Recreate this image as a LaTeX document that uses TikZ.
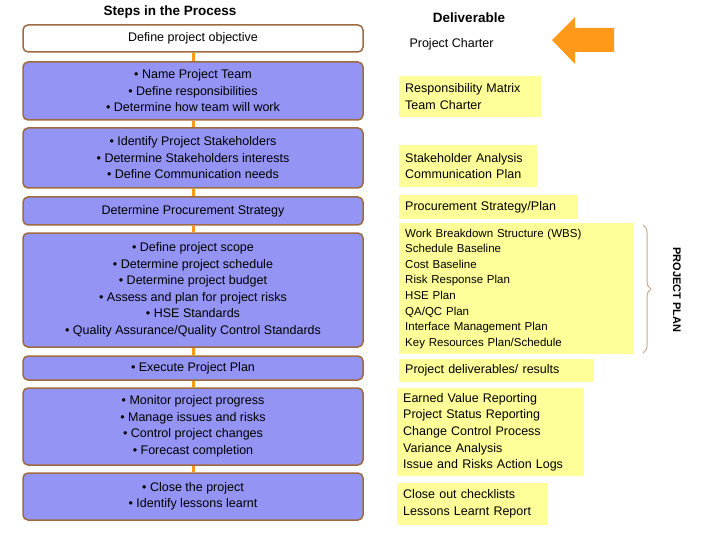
\documentclass[tikz,border=0pt]{standalone}
\usepackage{fontspec}
\setmainfont{Liberation Sans}
\usetikzlibrary{decorations.pathreplacing}
\definecolor{bl}{rgb}{0.58,0.58,0.96}
\definecolor{bd}{rgb}{0.62,0.42,0.25}
\definecolor{yl}{rgb}{1,1,0.6}
\definecolor{og}{rgb}{1,0.6,0.1}
\begin{document}
\begin{tikzpicture}[x=1pt,y=-1pt,
 stepbox/.style={draw=bd,line width=1.5pt,rounded corners=5pt,fill=bl,minimum width=340pt,align=center,font=\fontsize{12.5}{16.5}\selectfont,inner sep=2pt},
 del/.style={fill=yl,anchor=north west,align=left,font=\fontsize{12.5}{16.5}\selectfont,inner sep=4pt,inner xsep=6pt},
 con/.style={draw=og,line width=3pt}]
\useasboundingbox (0,0) rectangle (720,540);
\node[font=\bfseries\fontsize{13.5}{15}\selectfont] (h1) at (170,12) {Steps in the Process};
\node[font=\bfseries\fontsize{13.5}{15}\selectfont] (h2) at (469,18) {Deliverable};
\node[stepbox,fill=white,minimum height=27pt] (s1) at (193,38.5) {Define project objective};
\node[stepbox,minimum height=58pt] (s2) at (193,91) {• Name Project Team\\• Define responsibilities\\• Determine how team will work};
\node[stepbox,minimum height=60pt] (s3) at (193,158) {• Identify Project Stakeholders\\• Determine Stakeholders interests\\• Define Communication needs};
\node[stepbox,minimum height=28pt] (s4) at (193,211) {Determine Procurement Strategy};
\node[stepbox,minimum height=114pt] (s5) at (193,290) {• Define project scope\\• Determine project schedule\\• Determine project budget\\• Assess and plan for project risks\\• HSE Standards\\• Quality Assurance/Quality Control Standards};
\node[stepbox,minimum height=24pt] (s6) at (193,368) {• Execute Project Plan};
\node[stepbox,minimum height=77pt] (s7) at (193,426.5) {• Monitor project progress\\• Manage issues and risks\\• Control project changes\\• Forecast completion};
\node[stepbox,minimum height=47pt] (s8) at (193,496.5) {• Close the project\\• Identify lessons learnt};
\foreach \a/\b in {s1/s2,s2/s3,s3/s4,s4/s5,s5/s6,s6/s7,s7/s8}{
 \draw[con] ([yshift=-0.5pt]\a.south) -- ([yshift=0.5pt]\b.north);}
\node[anchor=west,font=\fontsize{12.5}{15}\selectfont] (d1) at (406,44) {Project Charter};
\node[del,text width=130pt,minimum height=41pt] (d2) at (399,76) {Responsibility Matrix\\Team Charter};
\node[del,text width=126pt,minimum height=42pt] (d3) at (399,145) {Stakeholder Analysis\\Communication Plan};
\node[del,text width=167pt,minimum height=24pt] (d4) at (399,195) {Procurement Strategy/Plan};
\node[del,text width=223pt,minimum height=131pt,font=\fontsize{11.5}{15.6}\selectfont] (d5) at (399,223) {Work Breakdown Structure (WBS)\\Schedule Baseline\\Cost Baseline\\Risk Response Plan\\HSE Plan\\QA/QC Plan\\Interface Management Plan\\Key Resources Plan/Schedule};
\node[del,text width=183pt,minimum height=23pt] (d6) at (399,359) {Project deliverables/ results};
\node[del,text width=175pt,minimum height=88pt,font=\fontsize{12.5}{16.7}\selectfont] (d7) at (397,388) {Earned Value Reporting\\Project Status Reporting\\Change Control Process\\Variance Analysis\\Issue and Risks Action Logs};
\node[del,text width=139pt,minimum height=42pt,font=\fontsize{12.5}{17}\selectfont] (d8) at (397,483) {Close out checklists\\Lessons Learnt Report};
\fill[og] (614,28) -- (575,28) -- (575,17) -- (552,40) -- (575,64) -- (575,52) -- (614,52) -- cycle;
\coordinate (b1) at (643,225); \coordinate (b2) at (643,353);
\draw[draw=bd!60,line width=1pt,decorate,decoration={brace,amplitude=8pt}] (b1) -- (b2);
\node[rotate=-90,font=\bfseries\fontsize{11}{13}\selectfont] (pp) at (677,290) {PROJECT PLAN};
\end{tikzpicture}
\end{document}
